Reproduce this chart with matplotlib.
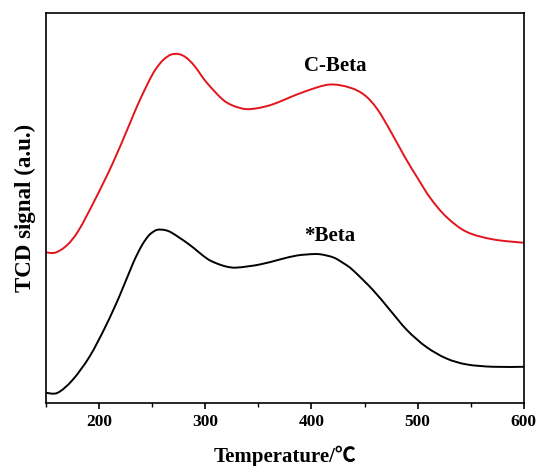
import matplotlib
matplotlib.use("Agg")
import matplotlib.pyplot as plt
import numpy as np
from matplotlib.path import Path
from matplotlib.patches import PathPatch
from matplotlib.ticker import MultipleLocator

# temperature (deg C) and TCD signal (a.u.)
temp_c = [150, 159, 170, 181, 197, 213, 228, 238, 250, 257, 262, 268, 275, 282,
          290, 301, 316, 326, 338, 350, 363, 376, 395, 417, 436, 450, 462, 475,
          488, 500, 512, 527, 546, 571, 600]
signal_c = [150.7, 150.5, 158, 173, 205, 240, 277, 302, 328, 339, 344.5, 348.5,
            349, 345.5, 337, 321, 304, 297.5, 294, 295, 298.5, 304, 312, 318.5,
            315.5, 308, 294, 271, 246, 225, 205, 186.3, 171.3, 163.7, 160.3]

temp_b = [150, 161, 175, 191, 206, 219, 232, 240, 246, 250, 255, 262, 269, 285,
          301, 310, 320, 330, 351, 370, 386, 402, 410, 421, 430, 439, 458, 474,
          490, 508, 527, 546, 571, 600]
signal_b = [10.3, 10.3, 23, 46.3, 76.3, 106.3, 139.7, 157, 166.5, 170.5, 173.3,
            173, 170, 158.5, 145, 140, 136.5, 135.5, 138.5, 143.5, 147.5, 149,
            148.5, 145.5, 140, 133, 113, 93, 73, 56.3, 44.7, 38.7, 36.3, 36.3]

labels = ["C-Beta", "*Beta"]


def smooth_curve(ax, xs, ys, color):
    """draw a Catmull-Rom style bezier through the points"""
    p = np.column_stack([xs, ys]).astype(float)
    p = np.vstack([p[0], p, p[-1]])
    verts = [p[1]]
    codes = [Path.MOVETO]
    for i in range(1, len(p) - 2):
        c1 = p[i] + (p[i + 1] - p[i - 1]) / 6.0
        c2 = p[i + 1] - (p[i + 2] - p[i]) / 6.0
        verts += [c1, c2, p[i + 1]]
        codes += [Path.CURVE4] * 3
    ax.add_patch(PathPatch(Path(verts, codes), fill=False, edgecolor=color,
                           lw=1.4, capstyle='round', joinstyle='round'))


plt.rcParams['font.family'] = ['Liberation Serif', 'Noto Sans CJK SC']
plt.rcParams['font.weight'] = 'bold'

fig = plt.figure(figsize=(5.4, 4.66), dpi=100)
ax = fig.add_axes([0.085, 0.135, 0.885, 0.837])

smooth_curve(ax, temp_c, signal_c, '#e3141b')
smooth_curve(ax, temp_b, signal_b, 'black')

ax.text(422, 337, labels[0], ha='center', va='center', fontsize=15,
        fontweight='bold')
ax.text(417, 167, labels[1], ha='center', va='center', fontsize=15,
        fontweight='bold')

ax.set_xlim(150, 600)
ax.set_ylim(0, 390)
ax.xaxis.set_major_locator(MultipleLocator(100))
ax.xaxis.set_minor_locator(MultipleLocator(50))
ax.tick_params(axis='x', which='major', direction='out', length=4, width=1.2,
               labelsize=12.5, pad=4)
ax.tick_params(axis='x', which='minor', direction='out', length=3, width=1.0)
ax.set_yticks([])
for lbl in ax.get_xticklabels():
    lbl.set_fontweight('bold')
for sp in ax.spines.values():
    sp.set_linewidth(1.2)

ax.set_xlabel('Temperature/\u2103', fontsize=15, fontweight='bold', labelpad=11)
ax.set_ylabel('TCD signal (a.u.)', fontsize=16.5, fontweight='bold', labelpad=7)

fig.savefig("out.png", dpi=100)
